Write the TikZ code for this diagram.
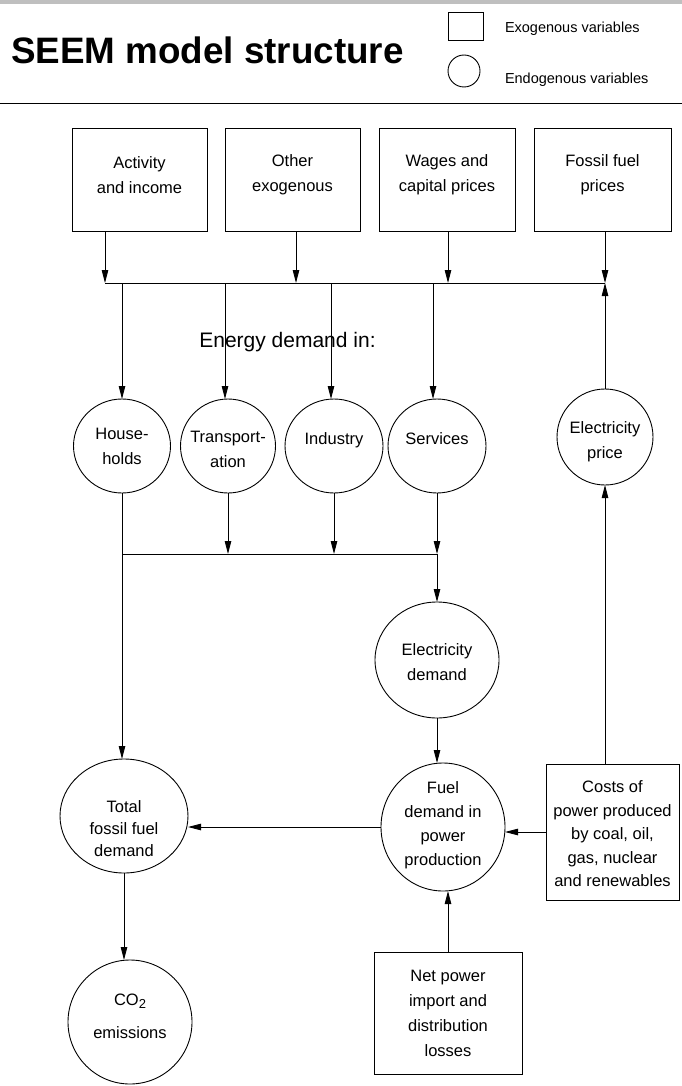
\documentclass[tikz,border=0pt]{standalone}
\usepackage{fontspec}
\setmainfont{Liberation Sans}
\usetikzlibrary{arrows.meta,shapes.geometric}
\begin{document}
\begin{tikzpicture}[x=1pt,y=-1pt,
  every node/.style={inner sep=0pt,outer sep=0pt},
  txt/.style={font=\fontsize{16.5}{25}\selectfont,align=center},
  exo/.style={draw,line width=0.9pt,rectangle},
  endo/.style={draw,line width=0.9pt,ellipse},
  arr/.style={line width=0.9pt,-{Triangle[length=13pt,width=6.5pt]}},
  ln/.style={line width=0.9pt}]
\useasboundingbox (0,0) rectangle (682,1086);
\fill[black!25] (0,0) rectangle (682,4);
% header
\node[anchor=base west,font=\fontsize{36.8}{40}\selectfont\bfseries] (title) at (11,64) {SEEM model structure};
\node[exo,minimum width=35pt,minimum height=28pt] (legsq) at (465.5,26) {};
\node[draw,line width=0.9pt,circle,minimum size=32pt] (legci) at (464,71) {};
\node[anchor=west,font=\fontsize{14.5}{16}\selectfont] (legexo) at (505,29) {Exogenous variables};
\node[anchor=west,font=\fontsize{14.5}{16}\selectfont] (legendo) at (505,80) {Endogenous variables};
\coordinate (rl) at (0,104);
\coordinate (rr) at (682,104);
\draw[line width=1pt] (rl) -- (rr);
% exogenous boxes on top
\node[exo,minimum width=135pt,minimum height=103pt,label={[txt,yshift=4.5pt]center:{Activity\\and income}}] (act) at (139.5,179.5) {};
\node[exo,minimum width=135pt,minimum height=103pt,label={[txt,yshift=4.5pt]center:{Other\\exogenous}}] (oth) at (292.5,179.5) {};
\node[exo,minimum width=136pt,minimum height=103pt,label={[txt,yshift=4.5pt]center:{Wages and\\capital prices}}] (wag) at (447,179.5) {};
\node[exo,minimum width=137pt,minimum height=103pt,label={[txt,yshift=4.5pt]center:{Fossil fuel\\prices}}] (ffp) at (602.5,179.5) {};
% upper bus
\coordinate (b1) at (105,283);
\coordinate (b2) at (296,283);
\coordinate (b3) at (448,283);
\coordinate (b4) at (605,283);
\draw[arr] (act.south -| b1) -- (b1);
\draw[arr] (oth.south -| b2) -- (b2);
\draw[arr] (wag.south -| b3) -- (b3);
\draw[arr] (ffp.south -| b4) -- (b4);
\draw[ln] (b1) -- (b4);
\node[font=\fontsize{21}{24}\selectfont] (edin) at (287.5,342) {Energy demand in:};
% demand circles
\node[endo,minimum width=97pt,minimum height=94pt,label={[txt]center:{House-\\holds}}] (hh) at (122,446) {};
\node[endo,minimum width=95pt,minimum height=94pt,label={[txt,yshift=-3pt]center:{Transport-\\ation}}] (tr) at (228,446) {};
\node[endo,minimum width=98pt,minimum height=94pt,label={[txt,yshift=6pt]center:{Industry}}] (ind) at (334,446) {};
\node[endo,minimum width=98pt,minimum height=94pt,label={[txt,yshift=7pt]center:{Services}}] (ser) at (437,446) {};
\node[endo,minimum width=96pt,minimum height=96pt,label={[txt,yshift=-5pt]center:{Electricity\\price}}] (ep) at (605,437) {};
\coordinate (d1) at (122,283);
\coordinate (d2) at (225,283);
\coordinate (d3) at (331,283);
\coordinate (d4) at (433,283);
\draw[arr] (d1) -- (hh.north);
\draw[arr] (d2) -- (d2 |- tr.north);
\draw[arr] (d3) -- (d3 |- ind.north);
\draw[arr] (d4) -- (d4 |- ser.north);
\draw[arr] (ep.north) -- (b4);
% lower bus
\coordinate (e0) at (122,554);
\coordinate (e4) at (437,554);
\draw[arr] (tr.south) -- (tr.south |- e4);
\draw[arr] (ind.south) -- (ind.south |- e4);
\draw[arr] (ser.south) -- (e4);
\draw[ln] (e0) -- (e4);
% lower part
\node[endo,minimum width=124pt,minimum height=116pt,label={[txt,yshift=-2pt]center:{Electricity\\demand}}] (ed) at (437,660) {};
\node[endo,minimum width=124pt,minimum height=128pt,label={[txt,font=\fontsize{16.5}{24}\selectfont,yshift=2pt]center:{Fuel\\demand in\\power\\production}}] (fu) at (443,827) {};
\node[endo,minimum width=128pt,minimum height=114pt,label={[txt,font=\fontsize{16.5}{22}\selectfont,yshift=-13pt]center:{Total\\fossil fuel\\demand}}] (tot) at (124,816) {};
\node[endo,minimum width=124pt,minimum height=124pt,label={[txt,font=\fontsize{16.5}{33}\selectfont,yshift=6pt]center:{CO{\fontsize{13}{13}\selectfont\raisebox{-3pt}{2}}\\emissions}}] (co) at (130,1022) {};
\node[exo,minimum width=133pt,minimum height=136pt,label={[txt,font=\fontsize{16.5}{23.5}\selectfont,yshift=-2pt]center:{Costs of\\power produced\\by coal, oil,\\gas, nuclear\\and renewables}}] (costs) at (612.5,832) {};
\node[exo,minimum width=148pt,minimum height=122pt,label={[txt]center:{Net power\\import and\\distribution\\losses}}] (net) at (448,1013) {};
\draw[arr] (hh.south) -- (hh.south |- tot.north);
\draw[arr] (e4) -- (ed.north);
\draw[arr] (ed.south) -- (ed.south |- fu.north);
\draw[arr] (fu.west) -- (fu.west -| tot.east);
\draw[arr] (costs.west) -- (costs.west -| fu.east);
\draw[arr] (costs.north -| ep) -- (ep.south);
\draw[arr] (net.north) -- (net.north |- fu.south);
\draw[arr] (tot.south) -- (tot.south |- co.north);
\end{tikzpicture}
\end{document}
